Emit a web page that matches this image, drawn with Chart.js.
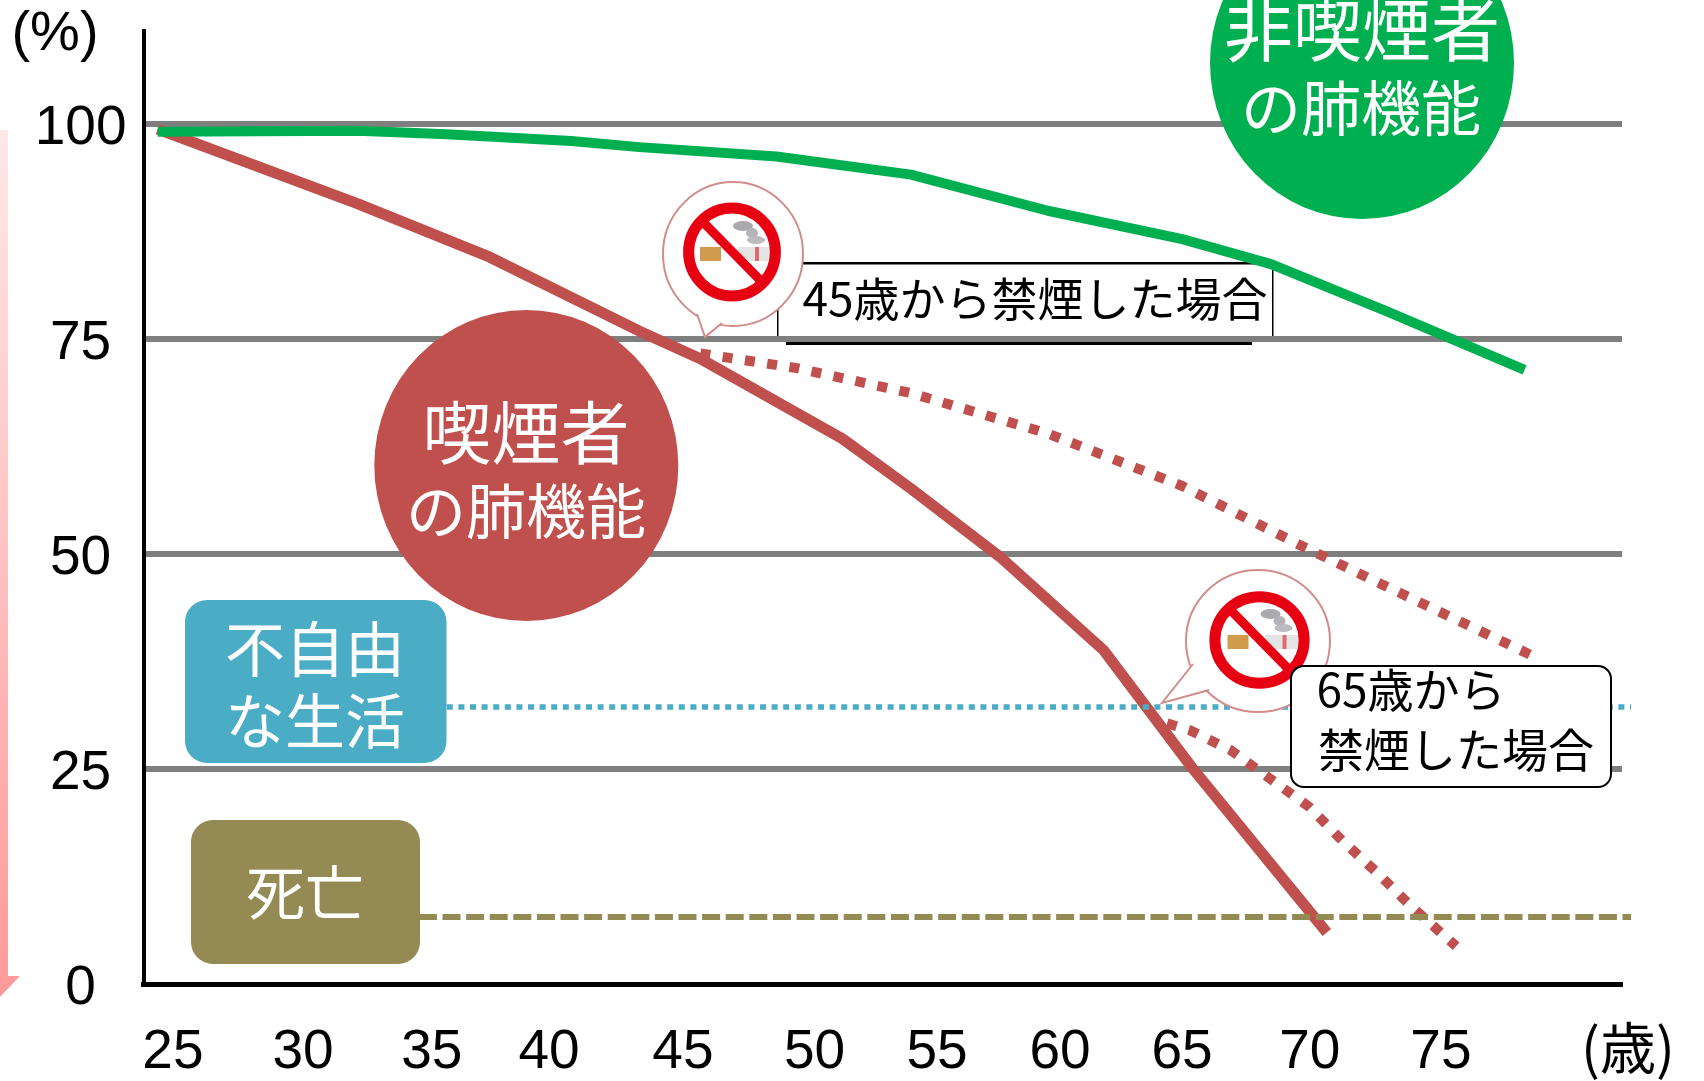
<!DOCTYPE html>
<html lang="ja">
<head>
<meta charset="utf-8">
<title>喫煙者と非喫煙者の肺機能</title>
<style>html,body{margin:0;padding:0;background:#fff;overflow:hidden}canvas{display:block}</style>
<script src="https://cdn.jsdelivr.net/npm/chart.js@4"></script>
</head>
<body>
<canvas id="c" width="1704" height="1081"></canvas>
<script>
const xTickLabels = ["25","30","35","40","45","50","55","60","65","70","75"];
const xTickPlaces = [25,30.13,35.21,39.83,45.11,50.3,55.13,59.98,64.79,69.83,75];
const yTickValues = [0,25,50,75,100];

const nonSmokerAge = [24.4,32.3,35.8,40.7,43.4,48.8,54.1,59.5,64.8,68.3,72.8,78.3];
const nonSmokerLung = [99.1,99.2,98.8,98.0,97.3,96.2,94.1,89.9,86.6,83.7,78.3,71.4];
const smokerAge = [24.4,32.3,37.5,43.4,45.8,51.4,54.1,57.6,61.7,65.2,70.5];
const smokerLung = [99.4,90.7,84.5,75.9,72.7,63.4,57.6,49.7,38.8,25.1,6.0];
const quit45Age = [45.8,49.6,54.1,59.5,64.8,69.6,73.0,78.8];
const quit45Lung = [73.3,71.6,68.7,64.0,57.9,50.8,46.0,37.9];
const quit65Age = [64.2,65.1,66.7,68.2,69.8,71.1,72.5,73.8,75.6];
const quit65Lung = [30.3,29.5,27.2,24.0,20.6,16.7,12.9,9.1,4.4];
const disabilityAge = [35.8,82.5];
const disabilityLung = [32.2,32.2];
const deathAge = [34.7,82.5];
const deathLung = [7.8,7.8];

const toXY = (xs, ys) => xs.map((x, i) => ({x, y: ys[i]}));
const CJK = '"Noto Sans CJK JP", sans-serif';
const RED = '#C0504D', GREEN = '#00B050', TEAL = '#4BACC6', OLIVE = '#948A54';

function text(ctx, s, x, y, size, color, family) {
  ctx.save();
  ctx.font = size + 'px ' + (family || CJK);
  ctx.fillStyle = color;
  ctx.textAlign = 'center';
  ctx.textBaseline = 'middle';
  ctx.fillText(s, x, y);
  ctx.restore();
}
function ell(ctx, x, y, rx, ry, color) {
  ctx.beginPath();
  ctx.ellipse(x, y, rx, ry, 0, 0, Math.PI * 2);
  ctx.fillStyle = color;
  ctx.fill();
}
function rrect(ctx, x0, y0, x1, y1, r, fill, stroke, lw) {
  ctx.beginPath();
  ctx.roundRect(x0, y0, x1 - x0, y1 - y0, r);
  if (fill) { ctx.fillStyle = fill; ctx.fill(); }
  if (stroke) { ctx.strokeStyle = stroke; ctx.lineWidth = lw; ctx.stroke(); }
}
function bubble(ctx, cx, cy, rx, ry, sx, sy, tail) {
  ctx.save();
  ell(ctx, cx, cy, rx, ry, '#fff');
  ctx.strokeStyle = '#D28D8B';
  ctx.lineWidth = 2;
  ctx.beginPath();
  ctx.ellipse(cx, cy, rx, ry, 0, 0, Math.PI * 2);
  ctx.stroke();
  ctx.beginPath();
  ctx.moveTo(tail[0][0], tail[0][1]);
  ctx.lineTo(tail[1][0], tail[1][1]);
  ctx.lineTo(tail[2][0], tail[2][1]);
  ctx.closePath();
  ctx.fillStyle = '#fff';
  ctx.fill();
  ctx.beginPath();
  ctx.moveTo(tail[0][0], tail[0][1]);
  ctx.lineTo(tail[1][0], tail[1][1]);
  ctx.lineTo(tail[2][0], tail[2][1]);
  ctx.stroke();
  // cigarette
  ctx.fillStyle = '#E4E4E4';
  ctx.fillRect(sx + 6, sy - 5, 33, 14);
  ctx.fillStyle = '#D29A4C';
  ctx.fillRect(sx - 32, sy - 5, 21, 14);
  ell(ctx, sx + 11, sy - 26, 10, 5, '#A9A9AE');
  ell(ctx, sx + 20, sy - 19, 6, 5, '#B4B4B8');
  ell(ctx, sx + 24, sy - 12, 9, 4, '#BBBBBF');
  ctx.fillStyle = '#E06A70';
  ctx.fillRect(sx + 23, sy - 5, 4, 14);
  // prohibition sign
  ctx.strokeStyle = '#E60012';
  ctx.lineWidth = 11;
  ctx.beginPath();
  ctx.ellipse(sx, sy, rx * 0.62, ry * 0.61, 0, 0, Math.PI * 2);
  ctx.stroke();
  ctx.lineWidth = 9;
  ctx.beginPath();
  ctx.moveTo(sx - 27, sy - 28);
  ctx.lineTo(sx + 28, sy + 28);
  ctx.stroke();
  ctx.restore();
}

const underLines = {
  id: 'underLines',
  beforeDraw(chart) {
    const ctx = chart.ctx;
    ctx.save();
    const g = ctx.createLinearGradient(0, 130, 0, 990);
    g.addColorStop(0, '#FFE8E8');
    g.addColorStop(1, '#FF9A9A');
    ctx.fillStyle = g;
    ctx.beginPath();
    ctx.moveTo(0, 130); ctx.lineTo(8, 130); ctx.lineTo(8, 976); ctx.lineTo(20, 976);
    ctx.lineTo(0, 997); ctx.closePath();
    ctx.fill();
    ctx.restore();
  },
  beforeDatasetsDraw(chart) {
    const ctx = chart.ctx;
    ctx.save();
    ell(ctx, 1362, 63, 152, 156, GREEN);
    text(ctx, '非喫煙者', 1362, 30, 69, '#fff');
    text(ctx, 'の肺機能', 1361, 108, 60, '#fff');
    ell(ctx, 526.3, 465.5, 152, 155.5, RED);
    text(ctx, '喫煙者', 526, 433, 69, '#fff');
    text(ctx, 'の肺機能', 526, 511, 60, '#fff');
    // 45歳 box: the 75 gridline shows through its lower edge
    ctx.fillStyle = '#fff';
    ctx.fillRect(777, 263, 495, 72);
    ctx.fillStyle = '#000';
    ctx.fillRect(790, 262, 470, 2.5);
    ctx.fillRect(786, 342, 466, 3);
    ctx.fillRect(777, 270, 1.5, 66);
    ctx.fillRect(1272, 270, 1.5, 66);
    text(ctx, '45歳から禁煙した場合', 1035, 299, 46, '#000');
    ctx.restore();
  },
  afterDatasetsDraw(chart) {
    const ctx = chart.ctx;
    ctx.save();
    rrect(ctx, 185, 600, 446.5, 763, 22, TEAL);
    text(ctx, '不自由', 315, 649, 60, '#fff');
    text(ctx, 'な生活', 315, 721, 60, '#fff');
    rrect(ctx, 191, 820, 420, 964, 22, OLIVE);
    text(ctx, '死亡', 305, 893, 59, '#fff');
    bubble(ctx, 733, 254, 70, 72, 732, 252, [[697, 314], [705, 337], [722, 323]]);
    bubble(ctx, 1258, 641, 72, 71, 1259.5, 640, [[1193, 664], [1162, 703], [1209, 690]]);
    rrect(ctx, 1291, 666, 1611, 787, 13, '#fff', '#000', 2);
    text(ctx, '65歳から', 1411, 690, 46, '#000');
    text(ctx, '禁煙した場合', 1456, 750, 46, '#000');
    text(ctx, '(%)', 55, 35, 56, '#000', '"Liberation Sans", sans-serif');
    text(ctx, '(歳)', 1628, 1048, 56, '#000');
    ctx.restore();
  }
};

const line = (label, xs, ys, color, width, dash, cap) => ({
  label, data: toXY(xs, ys), borderColor: color, borderWidth: width,
  borderDash: dash || [], borderCapStyle: cap || 'butt', borderJoinStyle: 'round',
  pointRadius: 0, tension: 0, clip: false, fill: false
});

new Chart(document.getElementById('c'), {
  type: 'line',
  data: {
    datasets: [
      line('不自由な生活', disabilityAge, disabilityLung, TEAL, 5.5, [6, 5.6]),
      line('死亡', deathAge, deathLung, OLIVE, 6, [18, 5.6]),
      line('45歳から禁煙した場合', quit45Age, quit45Lung, RED, 10, [10, 12.5]),
      line('65歳から禁煙した場合', quit65Age, quit65Lung, RED, 10, [10, 12.5]),
      line('非喫煙者の肺機能', nonSmokerAge, nonSmokerLung, GREEN, 10),
      line('喫煙者の肺機能', smokerAge, smokerLung, RED, 11)
    ]
  },
  options: {
    responsive: false,
    animation: false,
    layout: {padding: {top: 31, right: 82, bottom: 0, left: 0}},
    plugins: {legend: {display: false}, tooltip: {enabled: false}, title: {display: false}},
    scales: {
      x: {
        type: 'linear', min: 23.84, max: 82.14,
        afterBuildTicks(s) { s.ticks = xTickPlaces.map(v => ({value: v})); },
        afterFit(s) { s.height = 97; },
        grid: {display: false, drawTicks: false},
        border: {display: true, color: '#000', width: 5},
        ticks: {
          autoSkip: false, maxRotation: 0, minRotation: 0, padding: 36,
          color: '#000', font: {family: '"Liberation Sans", sans-serif', size: 55},
          callback: (v, i) => xTickLabels[i]
        }
      },
      y: {
        type: 'linear', min: 0, max: 110.8,
        afterBuildTicks(s) { s.ticks = yTickValues.map(v => ({value: v})); },
        afterFit(s) { s.width = 143.5; s.paddingTop = 0; s.paddingBottom = 0; },
        grid: {
          drawTicks: false, lineWidth: 6,
          color: c => c.tick && c.tick.value === 0 ? 'rgba(0,0,0,0)' : '#7F7F7F'
        },
        border: {display: true, color: '#000', width: 4},
        ticks: {
          crossAlign: 'center', padding: 17, labelOffset: 5, color: '#000',
          font: {family: '"Liberation Sans", sans-serif', size: 55, lineHeight: 0.3}
        }
      }
    }
  },
  plugins: [underLines]
});
</script>
</body>
</html>
